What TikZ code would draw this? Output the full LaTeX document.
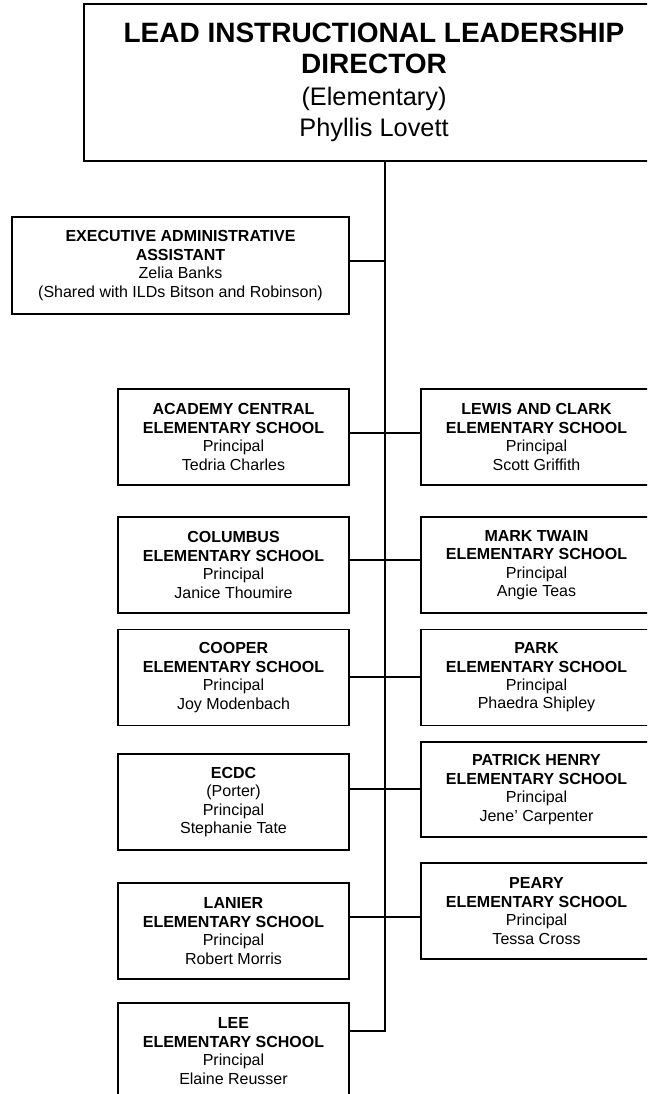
\documentclass[tikz,border=0pt]{standalone}
\usepackage{fontspec}
\setmainfont{Liberation Sans}
\newcommand{\bigbold}{\fontsize{21}{23.5}\selectfont\bfseries}
\newcommand{\bigreg}{\fontsize{19}{23.5}\selectfont}
\tikzset{
  orgbox/.style={draw=black, line width=1.3pt, rectangle, inner sep=0pt, align=center,
    font=\fontsize{12}{13.8}\selectfont},
  schoolbox/.style={orgbox, minimum width=231*0.75pt, minimum height=96*0.75pt},
  conn/.style={draw=black, line width=1pt},
  trunk/.style={draw=black, line width=1.2pt}
}
\begin{document}
\begin{tikzpicture}[x=0.75pt,y=-0.75pt]
\clip (0,0) rectangle (647,1094);
\fill[white] (0,0) rectangle (647,1094);
% top box
\node[orgbox, font=\fontsize{19}{23.5}\selectfont, minimum width=580*0.75pt, minimum height=157*0.75pt] (top) at (374,82.5)
  {\bigbold LEAD INSTRUCTIONAL LEADERSHIP\\
   \bigbold DIRECTOR\\
   \bigreg (Elementary)\\
   \bigreg Phyllis Lovett};
% executive assistant
\node[orgbox, minimum width=337*0.75pt, minimum height=97*0.75pt] (exec) at (180.5,265.5)
  {\textbf{EXECUTIVE ADMINISTRATIVE}\\ \textbf{ASSISTANT}\\ Zelia Banks\\ (Shared with ILDs Bitson and Robinson)};
% left column
\node[schoolbox] (academy) at (233.5,437) {\textbf{ACADEMY CENTRAL}\\ \textbf{ELEMENTARY SCHOOL}\\ Principal\\ Tedria Charles};
\node[schoolbox] (columbus) at (233.5,565) {\textbf{COLUMBUS}\\ \textbf{ELEMENTARY SCHOOL}\\ Principal\\ Janice Thoumire};
\node[schoolbox] (cooper) at (233.5,677.5) {\textbf{COOPER}\\ \textbf{ELEMENTARY SCHOOL}\\ Principal\\ Joy Modenbach};
\node[schoolbox] (ecdc) at (233.5,802) {\textbf{ECDC}\\ (Porter)\\ Principal\\ Stephanie Tate};
\node[schoolbox] (lanier) at (233.5,931) {\textbf{LANIER}\\ \textbf{ELEMENTARY SCHOOL}\\ Principal\\ Robert Morris};
\node[schoolbox] (lee) at (233.5,1051) {\textbf{LEE}\\ \textbf{ELEMENTARY SCHOOL}\\ Principal\\ Elaine Reusser};
% right column
\node[schoolbox] (lewis) at (536.5,437) {\textbf{LEWIS AND CLARK}\\ \textbf{ELEMENTARY SCHOOL}\\ Principal\\ Scott Griffith};
\node[schoolbox] (twain) at (536.5,565) {\textbf{MARK TWAIN}\\ \textbf{ELEMENTARY SCHOOL}\\ Principal\\ Angie Teas};
\node[schoolbox] (park) at (536.5,677.5) {\textbf{PARK}\\ \textbf{ELEMENTARY SCHOOL}\\ Principal\\ Phaedra Shipley};
\node[schoolbox, minimum height=95*0.75pt] (patrick) at (536.5,789.5) {\textbf{PATRICK HENRY}\\ \textbf{ELEMENTARY SCHOOL}\\ Principal\\ Jene' Carpenter};
\node[schoolbox] (peary) at (536.5,911) {\textbf{PEARY}\\ \textbf{ELEMENTARY SCHOOL}\\ Principal\\ Tessa Cross};
% trunk
\coordinate (tk) at (385,161);
\coordinate (tkend) at (385,1031);
\draw[trunk] (top.south -| tk) -- (tkend) -- (lee.east |- tkend);
% connectors
\draw[conn] (exec.east |- 0,261) -- (tk |- 0,261);
\draw[conn] (academy.east |- 0,433) -- (lewis.west |- 0,433);
\draw[conn] (columbus.east |- 0,560) -- (twain.west |- 0,560);
\draw[conn] (cooper.east |- 0,677) -- (park.west |- 0,677);
\draw[conn] (ecdc.east |- 0,789) -- (patrick.west |- 0,789);
\draw[conn] (lanier.east |- 0,917) -- (peary.west |- 0,917);
\end{tikzpicture}
\end{document}
